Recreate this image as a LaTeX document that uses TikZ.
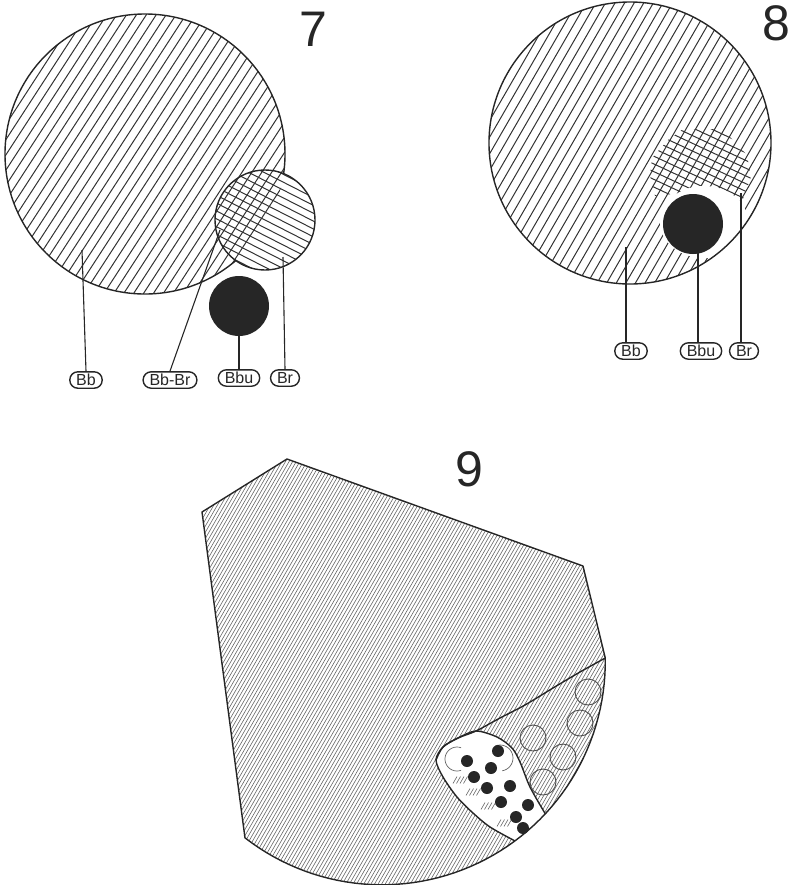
\documentclass[tikz,border=0pt]{standalone}
\usepackage{fontspec}
\setmainfont{Liberation Sans}
\newcommand{\hatchlines}[6]{\foreach \k in {-#6,...,#6}{\draw[shift={(#1,#2)},rotate=#3] (-#5,\k*#4) -- (#5,\k*#4);}}
\begin{document}
\begin{tikzpicture}[x=0.5pt,y=-0.5pt,
  ink/.style={black!85},
  outline/.style={ink,line width=0.7pt},
  hatch/.style={black!80,line width=0.5pt},
  fine/.style={black!60,line width=0.3pt},
  lab/.style={draw=black!85,rectangle,rounded corners=4pt,line width=0.7pt,inner xsep=3.2pt,inner ysep=0pt,
     minimum height=8.2pt,font=\fontsize{8}{9}\selectfont,text=black!85},
  conn/.style={ink,line width=0.55pt},
  disk/.style={circle,fill=black!85,inner sep=0pt,minimum size=30pt},
  num/.style={font=\fontsize{25}{25}\selectfont,text=black!85,inner sep=0pt}]
\useasboundingbox (0,0) rectangle (789,885);

% ---------- Figure 7 ----------
\node[num] (n7) at (313,29) {7};
\begin{scope}[hatch]
  \clip (145,154) circle (140);
  \hatchlines{145}{154}{57}{8.3}{150}{18}
\end{scope}
\begin{scope}[hatch]
  \clip (265,220) circle (50);
  \hatchlines{265}{220}{-27}{7}{60}{8}
\end{scope}
\begin{scope}[even odd rule]
  \clip (0,0) rectangle (789,885) (265,220) circle (50);
  \draw[outline] (145,154) circle (140);
\end{scope}
\draw[outline] (265,220) circle (50);
\node[disk] (d7) at (239,306) {};
\node[lab] (bb7) at (86,380) {Bb};
\node[lab] (bbbr7) at (170,380) {Bb-Br};
\node[lab] (bbu7) at (239,378) {Bbu};
\node[lab] (br7) at (285,378) {Br};
\coordinate (p71) at (82,250);
\coordinate (p72) at (220,230);
\coordinate (p74) at (283,257);
\draw[conn] (p71) -- (bb7.north);
\draw[conn] (p72) -- (bbbr7.north);
\draw[conn] (d7.south) -- (bbu7.north);
\draw[conn] (p74) -- (br7.north);

% ---------- Figure 8 ----------
\node[num] (n8) at (776,23) {8};
\begin{scope}[hatch]
  \clip (630,143) circle (141);
  \hatchlines{630}{143}{60}{8.3}{155}{18}
\end{scope}
\begin{scope}[hatch]
  \clip (683,129) -- (724,129) -- (729,136) -- (747,155) -- (751,177) -- (743,199) -- (735,210) -- (722,204)
        -- (700,194) -- (672,194) -- (655,196) -- (650,176) -- (652,158) -- (668,140) -- cycle;
  \hatchlines{700}{170}{-25}{7}{80}{9}
\end{scope}
\begin{scope}
  \clip (630,143) circle (141);
  \fill[white] (704,222) ellipse [x radius=44, y radius=36];
\end{scope}
\draw[outline] (630,143) circle (141);
\node[disk] (d8) at (693,224) {};
\node[lab] (bb8) at (631,351) {Bb};
\node[lab] (bbu8) at (701,351) {Bbu};
\node[lab] (br8) at (744,351) {Br};
\coordinate (p81) at (626,247);
\coordinate (p82) at (698,253);
\coordinate (p83) at (741,193);
\draw[conn] (p81) -- (p81 |- bb8.north);
\draw[conn] (p82) -- (p82 |- bbu8.north);
\draw[conn] (p83) -- (p83 |- br8.north);

% ---------- Figure 9 ----------
\node[num] (n9) at (469,469) {9};
\begin{scope}[fine]
  \clip (287,459) -- (202,512) -- (245,838)
     -- plot[domain=232.2:360.9,samples=60] ({382+223.3*cos(\x)},{661.5-223.3*sin(\x)})
     -- (583,566) -- cycle;
  \hatchlines{405}{670}{60}{3.1}{380}{115}
\end{scope}
% tear-shaped pocket
\fill[white] plot[smooth] coordinates {(514.9,840.9) (490,827) (473,813) (457,797) (443,777) (436,760)
     (443,747) (458,738) (476,731) (497,737) (512,748) (520,762) (530,787) (545.3,813.8)}
   -- plot[domain=317:306.5,samples=8] ({382+223.3*cos(\x)},{661.5-223.3*sin(\x)}) -- cycle;
\draw[outline] plot[smooth] coordinates {(514.9,840.9) (490,827) (473,813) (457,797) (443,777) (436,760)
     (443,747) (458,738) (476,731) (497,737) (512,748) (520,762) (530,787) (545.3,813.8)};
% short strokes inside the pocket
\begin{scope}[fine]
  \foreach \cx/\cy in {468/792, 499/823, 455/780, 483/806} {
    \foreach \j in {0,1,2,3} {
      \draw[shift={(\cx+\j*3.5,\cy)},rotate=60] (-4,0) -- (4,0);
    }
  }
\end{scope}
% dividing curve
\draw[outline] plot[smooth] coordinates {(436,760) (443,747) (458,738) (476,731) (500,718) (525,705)
     (553,688) (580,672) (605.3,658)};
% outline of figure 9
\draw[outline,line join=round] (287,459) -- (202,512) -- (245,838)
     -- plot[domain=232.2:360.9,samples=60] ({382+223.3*cos(\x)},{661.5-223.3*sin(\x)})
     -- (583,566) -- cycle;
% open circles
\foreach \p in {(588,692),(580,723),(533,738),(563,757),(543,782)}
  \draw[black!70,line width=0.45pt] \p circle (13);
% faint curls in pocket
\draw[black!60,line width=0.35pt] plot[domain=70:290,samples=20] ({457+12*cos(\x)},{759-12*sin(\x)});
\draw[black!60,line width=0.35pt] plot[domain=-80:110,samples=20] ({500+13*cos(\x)},{758-13*sin(\x)});
% black dots
\foreach \p in {(467,761),(498,751),(491,768),(474,777),(487,788),(510,786),(501,802),(528,805),(516,817),(523,828)}
  \fill[black!85] \p circle (6);
\end{tikzpicture}
\end{document}
